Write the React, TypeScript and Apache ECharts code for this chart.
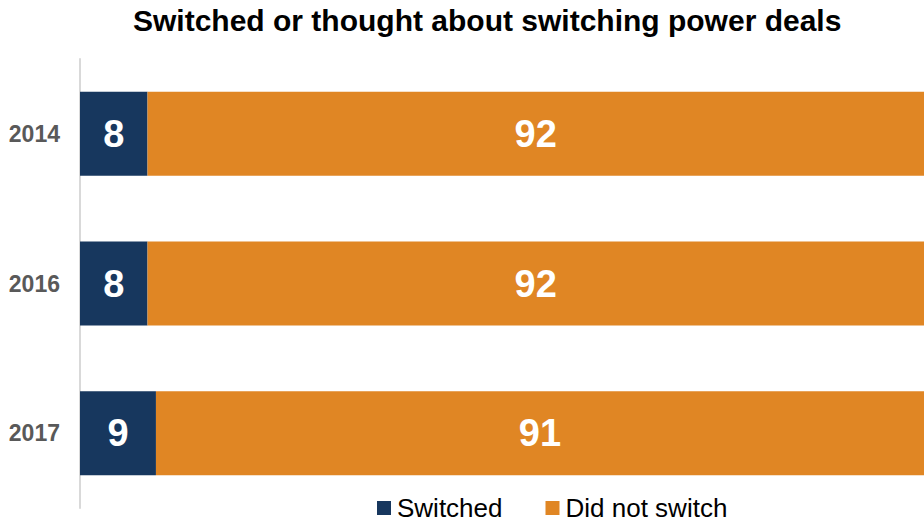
import React, { useEffect, useRef } from "react";
import * as echarts from "echarts";

const categories = ["2014", "2016", "2017"];
const switched = [8, 8, 9];
const didNotSwitch = [92, 92, 91];
const seriesNames = ["Switched", "Did not switch"];
const titleText = "Switched or thought about switching power deals";

const FONT = "'Liberation Sans', Arial, Helvetica, sans-serif";

export default function App() {
  const ref = useRef<HTMLDivElement>(null);
  useEffect(() => {
    if (!ref.current) return;
    const chart = echarts.init(ref.current, undefined, { renderer: "svg" });
    const labelStyle = {
      show: true,
      position: "inside",
      color: "#ffffff",
      fontSize: 38,
      fontWeight: "bold",
      fontFamily: FONT,
    };
    chart.setOption({
      animation: false,
      backgroundColor: "#ffffff",
      title: {
        text: titleText,
        left: 133,
        top: 5,
        padding: 0,
        textStyle: { fontSize: 30, fontWeight: "bold", color: "#000000", fontFamily: FONT },
      },
      legend: {
        data: seriesNames,
        left: 377,
        top: 495,
        padding: 0,
        itemWidth: 14,
        itemHeight: 14,
        itemGap: 43,
        icon: "rect",
        textStyle: {
          fontSize: 26,
          color: "#000000",
          fontFamily: FONT,
          padding: [0, 0, 0, 1],
        },
      },
      grid: { left: 80, right: -6, top: 59, height: 449, containLabel: false },
      xAxis: {
        type: "value",
        min: 0,
        max: 100,
        show: false,
      },
      yAxis: {
        type: "category",
        data: categories,
        inverse: true,
        axisLine: { show: true, lineStyle: { color: "#d9d9d9", width: 2 } },
        axisTick: { show: false },
        axisLabel: {
          margin: 20,
          fontSize: 23,
          fontWeight: "bold",
          color: "#595959",
          fontFamily: FONT,
        },
      },
      series: [
        {
          name: seriesNames[0],
          type: "bar",
          stack: "total",
          barWidth: 84,
          itemStyle: { color: "#17375E" },
          label: labelStyle,
          data: switched,
        },
        {
          name: seriesNames[1],
          type: "bar",
          stack: "total",
          barWidth: 84,
          itemStyle: { color: "#E08624" },
          label: labelStyle,
          data: didNotSwitch,
        },
      ],
    });
    return () => chart.dispose();
  }, []);
  return (
    <div
      ref={ref}
      style={{ position: "fixed", left: 0, top: 0, width: 924, height: 522, background: "#fff" }}
    />
  );
}
